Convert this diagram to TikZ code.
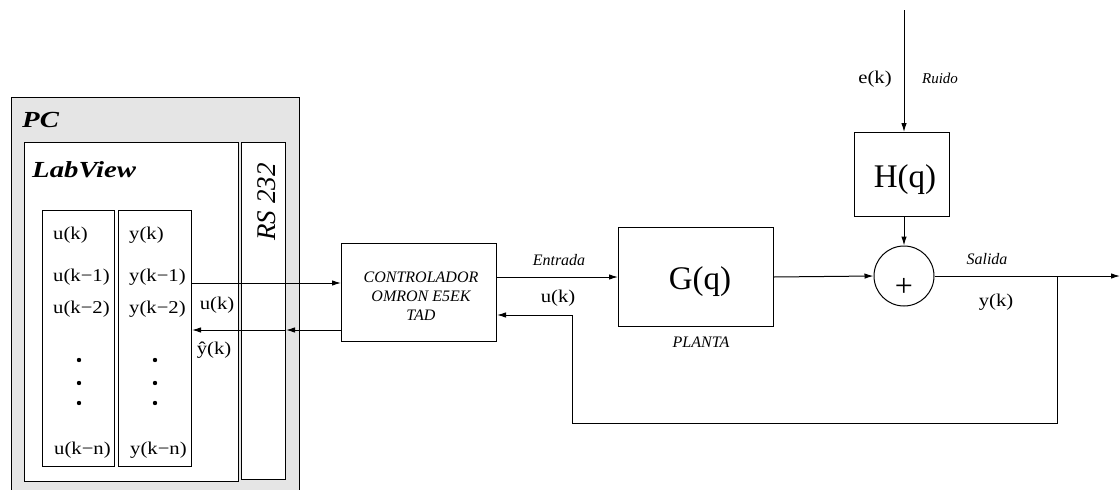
\documentclass[tikz,border=0pt]{standalone}
\usepackage{fontspec}
\setmainfont{Liberation Serif}
\newfontfamily\lblfont[FakeStretch=1.15]{Liberation Serif}
\newfontfamily\bifont[FakeStretch=1.25]{Liberation Serif}
\usetikzlibrary{arrows.meta}
\definecolor{pcgray}{RGB}{229,229,229}
\tikzset{
  box/.style={draw, line width=1pt, inner sep=0pt, anchor=north west},
  lbl/.style={font=\lblfont\fontsize{18}{20}\selectfont, inner sep=0pt},
  ital/.style={font=\fontsize{16}{19}\selectfont\itshape, inner sep=0pt},
  big/.style={font=\fontsize{33}{36}\selectfont, inner sep=0pt},
  title/.style={font=\bifont\fontsize{23}{25}\selectfont\bfseries\itshape, inner sep=0pt, anchor=west},
  arr/.style={-{Latex[length=9pt,width=5.5pt]}, line width=1pt},
  dot/.style={fill=black}
}
\begin{document}
\begin{tikzpicture}[x=1pt,y=-1pt]
\useasboundingbox (0,0) rectangle (1120,490);
% PC area
\node[box, fill=pcgray, minimum width=288pt, minimum height=396pt] (pc) at (11,97) {};
\node[title] (pclabel) at (22,120) {PC};
\node[box, fill=white, minimum width=214pt, minimum height=339pt] (lv) at (24,142) {};
\node[title] (lvlabel) at (32,170) {LabView};
\node[box, fill=white, minimum width=44pt, minimum height=337pt] (rs) at (241,142) {};
\node[font=\fontsize{27}{30}\selectfont\itshape, inner sep=0pt, rotate=90] (rslabel) at (267,202) {RS 232};
\node[box, minimum width=72pt, minimum height=256pt] (ucol) at (42,210) {};
\node[box, minimum width=73pt, minimum height=256pt] (ycol) at (118,210) {};
% column texts
\node[lbl, anchor=west] (u0) at (53,235) {u(k)};
\node[lbl, anchor=west] (u1) at (53,277) {u(k−1)};
\node[lbl, anchor=west] (u2) at (53,309) {u(k−2)};
\node[lbl, anchor=west] (un) at (54,450) {u(k−n)};
\node[lbl, anchor=west] (y0) at (129,235) {y(k)};
\node[lbl, anchor=west] (y1) at (129,277) {y(k−1)};
\node[lbl, anchor=west] (y2) at (129,309) {y(k−2)};
\node[lbl, anchor=west] (yn) at (130,450) {y(k−n)};
\fill[dot] (79,360) circle (2.2) (79,383) circle (2.2) (79,403) circle (2.2);
\fill[dot] (155,360) circle (2.2) (155,383) circle (2.2) (155,403) circle (2.2);
\node[lbl] (uklab) at (217,305) {u(k)};
\node[lbl] (yhat) at (214,350) {ŷ(k)};
% controller
\node[box, minimum width=155pt, minimum height=98pt] (ctrl) at (341,243) {};
\node[ital, align=center] (ctrltext) at (421,296) {CONTROLADOR\\OMRON E5EK\\TAD};
% plant
\node[box, minimum width=155pt, minimum height=99pt] (G) at (618,227) {};
\node[big] (Gtext) at (700,282) {G(q)};
\node[ital] (planta) at (701,342) {PLANTA};
% noise
\node[box, minimum width=95pt, minimum height=84pt] (H) at (854,132) {};
\node[big] (Htext) at (905,180) {H(q)};
\node[draw, circle, minimum size=60pt, inner sep=0pt, line width=1pt] (sum) at (904,276) {};
\node[font=\fontsize{32}{34}\selectfont, inner sep=0pt] (plus) at (904,287) {+};
\coordinate (top) at (904,10);
\coordinate (outend) at (1120,276);
\coordinate (branch) at (1057,276);
\coordinate (fb1) at (1057,423);
\coordinate (fb2) at (572,423);
\coordinate (fb3) at (572,315);
\coordinate (lvl1) at (0,283);
\coordinate (lvl2) at (0,330);
% labels
\node[lbl] (ek) at (875,79) {e(k)};
\node[font=\fontsize{15}{17}\selectfont\itshape, inner sep=0pt] (ruido) at (940,78) {Ruido};
\node[ital] (salida) at (987,259) {Salida};
\node[lbl] (yk) at (996,302) {y(k)};
\node[ital] (entrada) at (559,260) {Entrada};
\node[lbl] (ukin) at (558,298) {u(k)};
% connectors
\draw[arr] (ycol.east |- lvl1) -- (ctrl.west |- lvl1);
\draw[arr] (ctrl.west |- lvl2) -- (rs.east |- lvl2);
\draw[arr] (rs.east |- lvl2) -- (ycol.east |- lvl2);
\draw[arr] (ctrl.east |- G.west) -- (G.west);
\draw[arr] (G.east) -- (sum.west);
\draw[arr] (top) -- (top |- H.north);
\draw[arr] (H.south -| sum) -- (sum.north);
\draw[arr] (sum.east) -- (outend);
\draw[arr] (branch) -- (fb1) -- (fb2) -- (fb3) -- (ctrl.east |- fb3);
\end{tikzpicture}
\end{document}
